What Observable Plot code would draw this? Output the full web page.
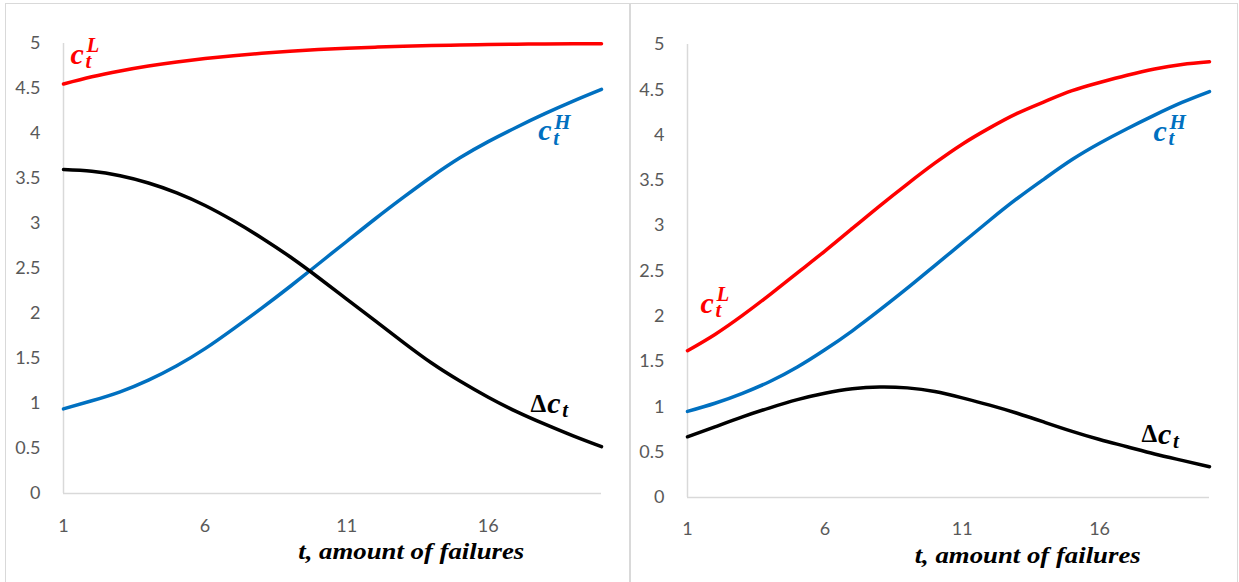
<!DOCTYPE html>
<html>
<head>
<meta charset="utf-8">
<script src="https://cdn.jsdelivr.net/npm/d3@7"></script>
<script src="https://cdn.jsdelivr.net/npm/@observablehq/plot@0.6"></script>
<style>
  html, body { margin: 0; padding: 0; background: #fff; }
  #root { position: relative; width: 1239px; height: 582px; overflow: hidden; }
  .frame { position: absolute; border: 1px solid #d9d9d9; box-sizing: border-box; }
  .panel { position: absolute; }
  .panel svg { overflow: visible; }
</style>
</head>
<body>
<div id="root">
  <div class="frame" style="left:5px;top:3px;width:625px;height:580px;"></div>
  <div class="frame" style="left:630px;top:3px;width:608px;height:580px;"></div>
  <div class="panel" id="left" style="left:6px;top:4px;"></div>
  <div class="panel" id="right" style="left:630px;top:4px;"></div>
</div>
<script>
// ---- data ----
const tValues = [1, 2, 3, 4, 5, 6, 7, 8, 9, 10, 11, 12, 13, 14, 15, 16, 17, 18, 19, 20];
const xTicks = [1, 6, 11, 16];
const yTicks = [0, 0.5, 1, 1.5, 2, 2.5, 3, 3.5, 4, 4.5, 5];
const xTitle = "t, amount of failures";

// left panel
const leftCL = [4.55, 4.63, 4.695, 4.75, 4.795, 4.833, 4.865, 4.892, 4.914, 4.932, 4.947, 4.959, 4.969, 4.977, 4.983, 4.988, 4.992, 4.995, 4.997, 4.998];
const leftCH = [0.94, 1.03, 1.13, 1.26, 1.42, 1.61, 1.83, 2.06, 2.30, 2.55, 2.80, 3.05, 3.29, 3.52, 3.73, 3.91, 4.07, 4.22, 4.36, 4.49];
const leftDelta = [3.60, 3.58, 3.53, 3.45, 3.34, 3.20, 3.03, 2.84, 2.63, 2.40, 2.16, 1.92, 1.68, 1.45, 1.25, 1.07, 0.91, 0.77, 0.64, 0.52];

// right panel
const rightCL = [1.62, 1.80, 2.01, 2.24, 2.48, 2.72, 2.97, 3.22, 3.46, 3.69, 3.90, 4.08, 4.24, 4.37, 4.49, 4.58, 4.66, 4.73, 4.78, 4.81];
const rightCH = [0.95, 1.04, 1.15, 1.28, 1.44, 1.63, 1.84, 2.07, 2.31, 2.56, 2.81, 3.06, 3.30, 3.52, 3.73, 3.91, 4.07, 4.22, 4.36, 4.48];
const rightDelta = [0.67, 0.78, 0.89, 0.99, 1.08, 1.15, 1.20, 1.22, 1.21, 1.17, 1.10, 1.02, 0.93, 0.83, 0.73, 0.64, 0.56, 0.48, 0.41, 0.34];

// annotation anchors (data units: t, value)
const leftLabels = [
  {pre: "", base: "c", sup: "L", sub: "t", t: 1.25, v: 4.88, color: "#FF0000"},
  {pre: "", base: "c", sup: "H", sub: "t", t: 17.77, v: 4.03, color: "#0070C0"},
  {pre: "Δ", base: "c", sup: "", sub: "t", t: 18.08, v: 1.0, color: "#000000"}
];
const rightLabels = [
  {pre: "", base: "c", sup: "L", sub: "t", t: 1.47, v: 2.14, color: "#FF0000"},
  {pre: "", base: "c", sup: "H", sub: "t", t: 17.96, v: 4.04, color: "#0070C0"},
  {pre: "Δ", base: "c", sup: "", sub: "t", t: 18.13, v: 0.70, color: "#000000"}
];
const leftTitleAt = 13.3;
const rightTitleAt = 13.4;

// ---- drawing ----
const serif = "'Liberation Serif', 'DejaVu Serif', serif";

function mathLabel(l) {
  const common = {x: [l.t], y: [l.v], text: d => d, fill: l.color, fontFamily: serif,
                  lineAnchor: "middle", textAnchor: "start", fontWeight: "bold"};
  const marks = [];
  if (l.pre) marks.push(Plot.text([l.pre], {...common, textAnchor: "end", fontSize: 25, dx: -1}));
  marks.push(Plot.text([l.base], {...common, fontStyle: "italic", fontSize: 30}));
  if (l.sup) marks.push(Plot.text([l.sup], {...common, fontStyle: "italic", fontSize: 21, dx: 16, dy: -9}));
  if (l.sub) marks.push(Plot.text([l.sub], {...common, fontStyle: "italic", fontSize: 21, dx: 15, dy: 7}));
  return marks;
}

function panel(opts) {
  const {width, height, margins, cL, cH, delta, labels, xPad} = opts;
  return Plot.plot({
    width, height,
    marginLeft: margins[0], marginRight: margins[1], marginTop: margins[2], marginBottom: margins[3],
    x: {domain: [1, 20]},
    y: {domain: [0, 5]},
    style: {fontFamily: "Lato, 'Open Sans', sans-serif", fontSize: "18px", color: "#595959", background: "transparent"},
    marks: [
      Plot.ruleY([0], {stroke: "#d9d9d9", strokeWidth: 1.5}),
      Plot.ruleX([1], {stroke: "#d9d9d9", strokeWidth: 1.5}),
      Plot.axisY({ticks: yTicks, tickSize: 0, tickPadding: 23, tickFormat: d => String(d), label: null}),
      Plot.axisX({ticks: xTicks, tickSize: 0, tickPadding: xPad, tickFormat: d => String(d), label: null}),
      Plot.lineY(cL, {x: tValues, stroke: "#FF0000", strokeWidth: 3.5, curve: "natural"}),
      Plot.lineY(cH, {x: tValues, stroke: "#0070C0", strokeWidth: 3.5, curve: "natural"}),
      Plot.lineY(delta, {x: tValues, stroke: "#000000", strokeWidth: 3.5, curve: "natural"}),
      ...labels.flatMap(mathLabel)
    ]
  });
}

// axis title, positioned through the plot's own scales and stretched to the reference width
function addTitle(plot, titleAt) {
  const sx = plot.scale("x"), sy = plot.scale("y");
  d3.select(plot).append("text")
    .attr("x", sx.apply(titleAt)).attr("y", sy.apply(0) + 66)
    .attr("text-anchor", "middle").attr("fill", "#000")
    .attr("font-family", serif).attr("font-weight", "bold").attr("font-style", "italic")
    .attr("font-size", 24).attr("textLength", 226).attr("lengthAdjust", "spacingAndGlyphs")
    .text(xTitle);
}

const leftPlot = panel({width: 622, height: 577, margins: [57, 27, 39, 88],
  cL: leftCL, cH: leftCH, delta: leftDelta, labels: leftLabels, xPad: 26});
const rightPlot = panel({width: 607, height: 577, margins: [57, 28, 40, 84],
  cL: rightCL, cH: rightCH, delta: rightDelta, labels: rightLabels, xPad: 25});
document.getElementById("left").appendChild(leftPlot);
document.getElementById("right").appendChild(rightPlot);
addTitle(leftPlot, leftTitleAt);
addTitle(rightPlot, rightTitleAt);
</script>
</body>
</html>
